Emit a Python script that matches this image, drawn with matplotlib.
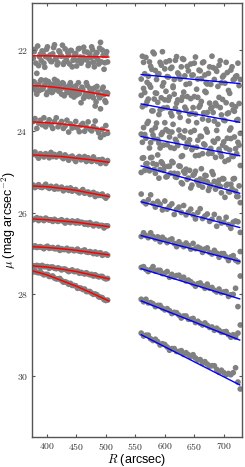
"""Surface-brightness profiles: inner (red fits) and outer (blue fits) regions."""
import matplotlib
matplotlib.use("Agg")
import matplotlib.pyplot as plt  # noqa: E402
from matplotlib.ticker import FuncFormatter  # noqa: E402

plt.rcParams["font.family"] = ["Liberation Sans", "DejaVu Sans"]
plt.rcParams["mathtext.fontset"] = "cm"

# radii of the sampled points (arcsec)
R_LEFT = [377, 380, 383, 386, 389, 392, 395, 398, 401, 404, 407, 410, 413, 416,
          419, 422, 425, 428, 431, 434, 437, 440, 443, 446, 449, 452, 455, 458,
          461, 464, 467, 470, 473, 476, 479, 482, 485, 488, 491, 494, 497, 500, 503]
R_RIGHT = [560, 564, 568, 572, 576, 580, 584, 588, 592, 596, 600, 604, 608, 612,
           616, 620, 624, 628, 632, 636, 640, 644, 648, 652, 656, 660, 664, 668,
           672, 676, 680, 684, 688, 692, 696, 700, 704, 708, 712, 716, 720, 724, 728]
# second (interleaved) sampling of the noisier profiles
R_LEFT_B = [378.5, 381.5, 384.5, 387.5, 390.5, 393.5, 396.5, 399.5, 402.5, 405.5,
            408.5, 411.5, 414.5, 417.5, 420.5, 423.5, 426.5, 429.5, 432.5, 435.5,
            438.5, 441.5, 444.5, 447.5, 450.5, 453.5, 456.5, 459.5, 462.5, 465.5,
            468.5, 471.5, 474.5, 477.5, 480.5, 483.5, 486.5, 489.5, 492.5, 495.5,
            498.5, 501.5]
R_RIGHT_B = [562, 566, 570, 574, 578, 582, 586, 590, 594, 598, 602, 606, 610, 614,
             618, 622, 626, 630, 634, 638, 642, 646, 650, 654, 658, 662, 666, 670,
             674, 678, 682, 686, 690, 694, 698, 702, 706, 710, 714, 718, 722, 726]

# inner profiles, mu (mag arcsec^-2)
L1 = [22.21, 21.99, 22.58, 22.39, 22.11, 22.03, 22.33, 22.17, 21.93, 22.23, 22.29,
      22.10, 21.88, 22.20, 22.32, 22.06, 22.16, 22.36, 21.98, 22.28, 22.14, 22.02,
      22.42, 22.20, 22.09, 22.27, 21.97, 22.33, 22.19, 22.05, 22.25, 22.39, 22.11,
      21.93, 22.31, 22.17, 22.07, 22.35, 21.82, 22.01, 22.48, 22.14, 22.30]
L2 = [22.78, 22.93, 23.09, 22.86, 22.77, 22.97, 22.90, 22.75, 23.04, 22.82, 22.93,
      23.03, 22.73, 22.90, 22.99, 22.87, 23.09, 22.83, 22.94, 23.05, 22.91, 22.81,
      23.03, 23.16, 22.89, 23.00, 23.08, 23.30, 22.98, 23.15, 22.81, 23.07, 22.95,
      23.01, 23.18, 23.38, 22.90, 23.12, 23.45, 22.97, 23.10, 23.29, 23.07]
L3 = [23.76, 23.69, 23.93, 23.80, 23.73, 23.84, 23.67, 23.89, 23.80, 23.72, 23.85,
      23.93, 23.76, 23.67, 23.89, 23.82, 23.76, 23.93, 23.87, 23.73, 24.02, 23.82,
      23.92, 23.89, 23.76, 23.92, 24.01, 23.85, 23.81, 24.00, 23.90, 23.77, 23.95,
      23.99, 23.88, 23.75, 23.95, 24.04, 24.15, 23.95, 24.08, 23.86, 24.05]
L4 = [24.56, 24.51, 24.60, 24.66, 24.55, 24.59, 24.63, 24.55, 24.58, 24.65, 24.52,
      24.62, 24.57, 24.63, 24.59, 24.55, 24.63, 24.67, 24.58, 24.63, 24.71, 24.63,
      24.61, 24.68, 24.74, 24.65, 24.62, 24.70, 24.68, 24.62, 24.74, 24.65, 24.71,
      24.74, 24.63, 24.70, 24.74, 24.70, 24.79, 24.69, 24.74, 24.79, 24.72]
L5 = [25.32, 25.38, 25.35, 25.31, 25.37, 25.38, 25.35, 25.30, 25.37, 25.40, 25.35,
      25.38, 25.42, 25.35, 25.41, 25.40, 25.37, 25.46, 25.42, 25.40, 25.45, 25.39,
      25.47, 25.44, 25.43, 25.48, 25.51, 25.47, 25.43, 25.52, 25.50, 25.49, 25.55,
      25.53, 25.50, 25.60, 25.54, 25.57, 25.57, 25.54, 25.60, 25.64, 25.59]
L6 = [26.17, 26.15, 26.12, 26.19, 26.14, 26.16, 26.19, 26.13, 26.16, 26.18, 26.17,
      26.21, 26.16, 26.19, 26.21, 26.19, 26.17, 26.21, 26.25, 26.19, 26.22, 26.24,
      26.20, 26.22, 26.25, 26.20, 26.25, 26.23, 26.24, 26.28, 26.25, 26.29, 26.24,
      26.28, 26.32, 26.28, 26.28, 26.32, 26.31, 26.31, 26.37, 26.32, 26.32]
L7 = [26.84, 26.81, 26.85, 26.84, 26.83, 26.85, 26.88, 26.84, 26.82, 26.87, 26.86,
      26.85, 26.88, 26.88, 26.85, 26.92, 26.88, 26.90, 26.90, 26.87, 26.93, 26.90,
      26.90, 26.93, 26.92, 26.89, 26.94, 26.95, 26.93, 26.91, 26.96, 26.97, 26.95,
      26.97, 27.00, 26.96, 27.01, 26.99, 26.98, 27.04, 27.02, 27.01, 27.04]
L8 = [27.30, 27.31, 27.29, 27.30, 27.34, 27.29, 27.32, 27.32, 27.32, 27.36, 27.33,
      27.33, 27.36, 27.37, 27.35, 27.37, 27.40, 27.38, 27.38, 27.41, 27.44, 27.42,
      27.40, 27.44, 27.44, 27.43, 27.48, 27.46, 27.48, 27.50, 27.47, 27.50, 27.52,
      27.51, 27.55, 27.52, 27.55, 27.57, 27.56, 27.56, 27.60, 27.62, 27.61]
L9 = [27.45, 27.43, 27.46, 27.47, 27.45, 27.49, 27.52, 27.51, 27.51, 27.56, 27.56,
      27.55, 27.60, 27.62, 27.62, 27.61, 27.66, 27.70, 27.69, 27.71, 27.75, 27.73,
      27.78, 27.78, 27.79, 27.85, 27.84, 27.85, 27.88, 27.87, 27.93, 27.93, 27.93,
      27.97, 28.00, 27.99, 28.01, 28.06, 28.07, 28.08, 28.13, 28.15, 28.14]
L1_B = [22.05, 22.33, 21.91, 22.17, 22.27, 22.09, 22.43, 21.99, 22.19, 22.13, 22.29,
        21.95, 22.23, 22.37, 22.03, 22.15, 21.89, 22.31, 22.21, 22.07, 22.35, 22.02,
        22.26, 22.12, 22.40, 21.98, 22.18, 22.28, 21.94, 22.22, 22.06, 22.34, 22.20,
        22.00, 22.42, 22.10, 22.24, 21.96, 22.30, 22.14, 22.32, 22.05]
L2_B = [22.79, 23.00, 22.87, 23.00, 22.74, 22.95, 22.86, 23.10, 22.78, 22.94, 23.05,
        22.85, 22.97, 22.77, 23.02, 22.96, 22.81, 23.13, 22.92, 23.04, 22.87, 23.12,
        22.92, 23.03, 23.11, 22.81, 23.00, 22.92, 23.19, 23.09, 22.88, 23.15, 23.03,
        23.08, 22.94, 23.28, 23.04, 23.18, 23.12, 22.92, 23.25, 23.05]

# outer profiles
RT1 = [22.72, 22.31, 22.19, 22.65, 22.41, 22.06, 22.51, 22.61, 22.31, 22.05, 22.47,
       22.66, 22.27, 22.43, 22.73, 22.17, 22.62, 22.42, 22.24, 22.85, 22.52, 22.35,
       22.62, 22.18, 22.72, 22.52, 22.32, 22.62, 22.84, 22.42, 22.16, 22.73, 22.53,
       22.38, 22.81, 22.63, 22.31, 23.00, 22.50, 22.74, 22.66, 22.33, 22.73]
RT2 = [23.12, 22.95, 23.35, 23.21, 22.92, 23.50, 23.06, 23.29, 23.48, 22.89, 23.23,
       23.42, 23.16, 23.62, 23.09, 23.31, 23.53, 23.24, 23.04, 23.47, 23.75, 23.20,
       23.42, 23.58, 23.17, 23.36, 23.70, 23.02, 23.54, 23.31, 23.41, 23.75, 23.37,
       23.17, 23.60, 23.73, 23.30, 23.55, 23.92, 23.48, 23.40, 23.71, 24.05]
RT3 = [24.07, 23.91, 24.17, 23.76, 24.28, 24.09, 23.91, 24.20, 24.41, 24.03, 23.79,
       24.33, 24.14, 24.02, 24.42, 24.26, 23.97, 24.62, 24.16, 24.39, 24.32, 24.02,
       24.40, 24.60, 24.22, 24.12, 24.55, 24.34, 24.02, 24.45, 24.54, 24.27, 23.98,
       24.44, 24.62, 24.26, 24.41, 24.70, 24.18, 24.62, 24.43, 24.27, 24.84]
RT4 = [25.01, 24.65, 24.80, 24.92, 24.65, 24.79, 25.03, 24.58, 24.94, 24.79, 24.87,
       25.11, 24.86, 24.74, 25.03, 25.13, 24.85, 25.26, 24.98, 24.93, 25.15, 25.39,
       25.08, 24.98, 25.25, 25.17, 25.37, 25.08, 25.24, 25.37, 24.99, 25.23, 25.36,
       25.20, 25.51, 25.17, 25.33, 25.48, 25.30, 25.17, 25.47, 25.60, 25.75]
RT5 = [25.54, 25.73, 25.78, 25.68, 25.56, 25.77, 25.86, 25.72, 25.79, 25.93, 25.71,
       25.91, 25.84, 25.78, 26.04, 25.92, 25.86, 25.99, 25.82, 26.05, 25.98, 25.91,
       26.05, 26.15, 25.99, 25.90, 26.14, 26.08, 26.03, 26.21, 26.16, 26.04, 26.33,
       26.14, 26.25, 26.23, 26.11, 26.29, 26.38, 26.23, 26.20, 26.22, 26.48]
RT6 = [26.58, 26.49, 26.56, 26.61, 26.49, 26.58, 26.64, 26.59, 26.71, 26.60, 26.66,
       26.73, 26.67, 26.64, 26.75, 26.83, 26.71, 26.78, 26.83, 26.74, 26.80, 26.89,
       26.75, 26.88, 26.84, 26.87, 26.97, 26.89, 26.86, 26.97, 27.01, 26.92, 26.99,
       27.09, 27.00, 27.00, 27.08, 27.17, 27.08, 27.05, 27.16, 27.20, 26.95]
RT7 = [27.34, 27.32, 27.39, 27.44, 27.39, 27.32, 27.43, 27.41, 27.41, 27.49, 27.48,
       27.44, 27.58, 27.51, 27.57, 27.54, 27.53, 27.61, 27.58, 27.67, 27.65, 27.69,
       27.74, 27.80, 27.74, 27.72, 27.79, 27.85, 27.75, 27.85, 27.83, 27.90, 27.94,
       27.87, 27.96, 27.94, 27.93, 28.05, 28.01, 28.00, 27.85, 28.30, 27.55]
RT8 = [28.12, 28.18, 28.12, 28.21, 28.20, 28.23, 28.30, 28.27, 28.27, 28.34, 28.38,
       28.35, 28.40, 28.47, 28.44, 28.45, 28.51, 28.58, 28.53, 28.53, 28.61, 28.61,
       28.59, 28.69, 28.66, 28.71, 28.75, 28.70, 28.76, 28.81, 28.80, 28.88, 28.83,
       28.88, 28.93, 28.92, 28.91, 28.99, 29.05, 28.99, 29.05, 28.95, 28.75]
RT9 = [28.95, 29.02, 29.00, 29.00, 29.09, 29.13, 29.10, 29.16, 29.24, 29.21, 29.23,
       29.29, 29.37, 29.33, 29.33, 29.40, 29.40, 29.38, 29.47, 29.43, 29.48, 29.53,
       29.48, 29.56, 29.61, 29.60, 29.69, 29.65, 29.71, 29.76, 29.75, 29.75, 29.84,
       29.91, 29.86, 29.92, 29.97, 29.94, 29.97, 29.92, 29.80, 30.15, 30.32]
RT1_B = [22.16, 22.59, 22.80, 22.30, 22.48, 22.10, 22.73, 22.59, 22.38, 22.81, 22.30,
         22.67, 22.46, 22.89, 22.26, 22.57, 22.72, 22.22, 22.64, 22.41, 22.83, 22.63,
         22.33, 22.97, 22.50, 22.71, 22.30, 22.81, 22.58, 22.85, 22.44, 22.47, 22.90,
         22.27, 22.67, 22.82, 22.56, 23.07, 22.42, 22.72, 22.64, 22.88]
RT2_B = [23.40, 23.05, 23.27, 22.86, 23.50, 23.21, 23.07, 23.59, 23.18, 23.43, 23.02,
         23.24, 23.55, 22.93, 23.43, 23.23, 23.66, 23.16, 23.41, 23.15, 23.58, 23.56,
         23.15, 23.79, 23.41, 23.27, 23.55, 23.05, 23.73, 23.44, 23.54, 23.31, 23.83,
         23.42, 23.22, 23.74, 23.57, 23.97, 23.35, 23.51, 23.73, 23.32]
RT3_B = [24.27, 24.08, 23.81, 24.41, 23.98, 24.18, 23.80, 24.29, 24.08, 24.34, 23.96,
         24.00, 24.40, 23.83, 24.20, 24.35, 24.11, 24.60, 23.99, 24.28, 24.21, 24.45,
         23.98, 24.39, 24.59, 24.13, 24.31, 23.95, 24.55, 24.42, 24.24, 24.64, 24.18,
         24.53, 24.34, 24.74, 24.17, 24.46, 24.61, 24.14, 24.55, 24.34]
RT4_B = [24.66, 24.96, 24.79, 24.97, 24.64, 24.94, 24.82, 25.15, 24.75, 24.96, 25.12,
         24.86, 25.03, 24.77, 25.12, 25.04, 24.86, 25.29, 25.03, 25.18, 24.96, 25.32,
         25.05, 25.21, 25.32, 24.92, 25.20, 25.09, 25.45, 25.32, 25.06, 25.42, 25.27,
         25.35, 25.16, 25.62, 25.30, 25.49, 25.41, 25.16, 25.60, 25.34]

# fitted models
FIT_R_LEFT = [375, 400, 425, 450, 475, 505]
FIT_LEFT = [
    [22.15, 22.15, 22.16, 22.16, 22.17, 22.18],
    [22.88, 22.90, 22.94, 22.99, 23.05, 23.13],
    [23.77, 23.79, 23.82, 23.86, 23.91, 23.98],
    [24.58, 24.60, 24.62, 24.66, 24.70, 24.76],
    [25.34, 25.36, 25.40, 25.45, 25.52, 25.60],
    [26.15, 26.17, 26.20, 26.23, 26.28, 26.34],
    [26.83, 26.85, 26.88, 26.92, 26.97, 27.03],
    [27.30, 27.33, 27.38, 27.44, 27.52, 27.62],
    [27.42, 27.52, 27.66, 27.80, 27.96, 28.16],
]
FIT_R_RIGHT = [560, 727]
FIT_RIGHT = [
    [22.61, 22.83], [23.33, 23.78], [24.13, 24.60], [24.85, 25.52], [25.73, 26.36],
    [26.56, 27.19], [27.37, 28.11], [28.16, 29.12], [28.99, 30.22],
]

LEFT = [L1, L2, L3, L4, L5, L6, L7, L8, L9]
RIGHT = [RT1, RT2, RT3, RT4, RT5, RT6, RT7, RT8, RT9]
LEFT_B = [L1_B, L2_B]
RIGHT_B = [RT1_B, RT2_B, RT3_B, RT4_B]

fig = plt.figure(figsize=(2.45, 4.67), dpi=100)
ax = fig.add_axes([0.131, 0.064, 0.857, 0.930])

dot = dict(s=17, color="#808080", edgecolors="none", zorder=1)
for mu in LEFT:
    ax.scatter(R_LEFT, mu, **dot)
for mu in LEFT_B:
    ax.scatter(R_LEFT_B, mu, **dot)
for mu in RIGHT:
    ax.scatter(R_RIGHT, mu, **dot)
for mu in RIGHT_B:
    ax.scatter(R_RIGHT_B, mu, **dot)
for fit in FIT_LEFT:
    ax.plot(FIT_R_LEFT, fit, color="#ff0000", lw=1.1, zorder=2)
for fit in FIT_RIGHT:
    ax.plot(FIT_R_RIGHT, fit, color="#0000ff", lw=1.0, zorder=2)

ax.set_xlim(375, 731)
ax.set_ylim(31.5, 20.85)
ax.set_xticks([400, 450, 500, 550, 600, 650, 700])
ax.set_yticks([22, 24, 26, 28, 30])
fmt = FuncFormatter(lambda v, p: f"${v:g}$")
ax.xaxis.set_major_formatter(fmt)
ax.yaxis.set_major_formatter(fmt)
ax.tick_params(direction="in", top=True, right=True, length=2.5, width=0.8,
               labelsize=7, pad=3, colors="#555555", labelcolor="#333333")
for sp in ax.spines.values():
    sp.set_color("#555555")
    sp.set_linewidth(1.0)

ax.set_xlabel(r"$R$ (arcsec)", fontsize=9, labelpad=0)
ax.set_ylabel(r"$\mu$ (mag arcsec$^{-2}$)", fontsize=9, labelpad=-1)

fig.savefig("out.png", dpi=100)
